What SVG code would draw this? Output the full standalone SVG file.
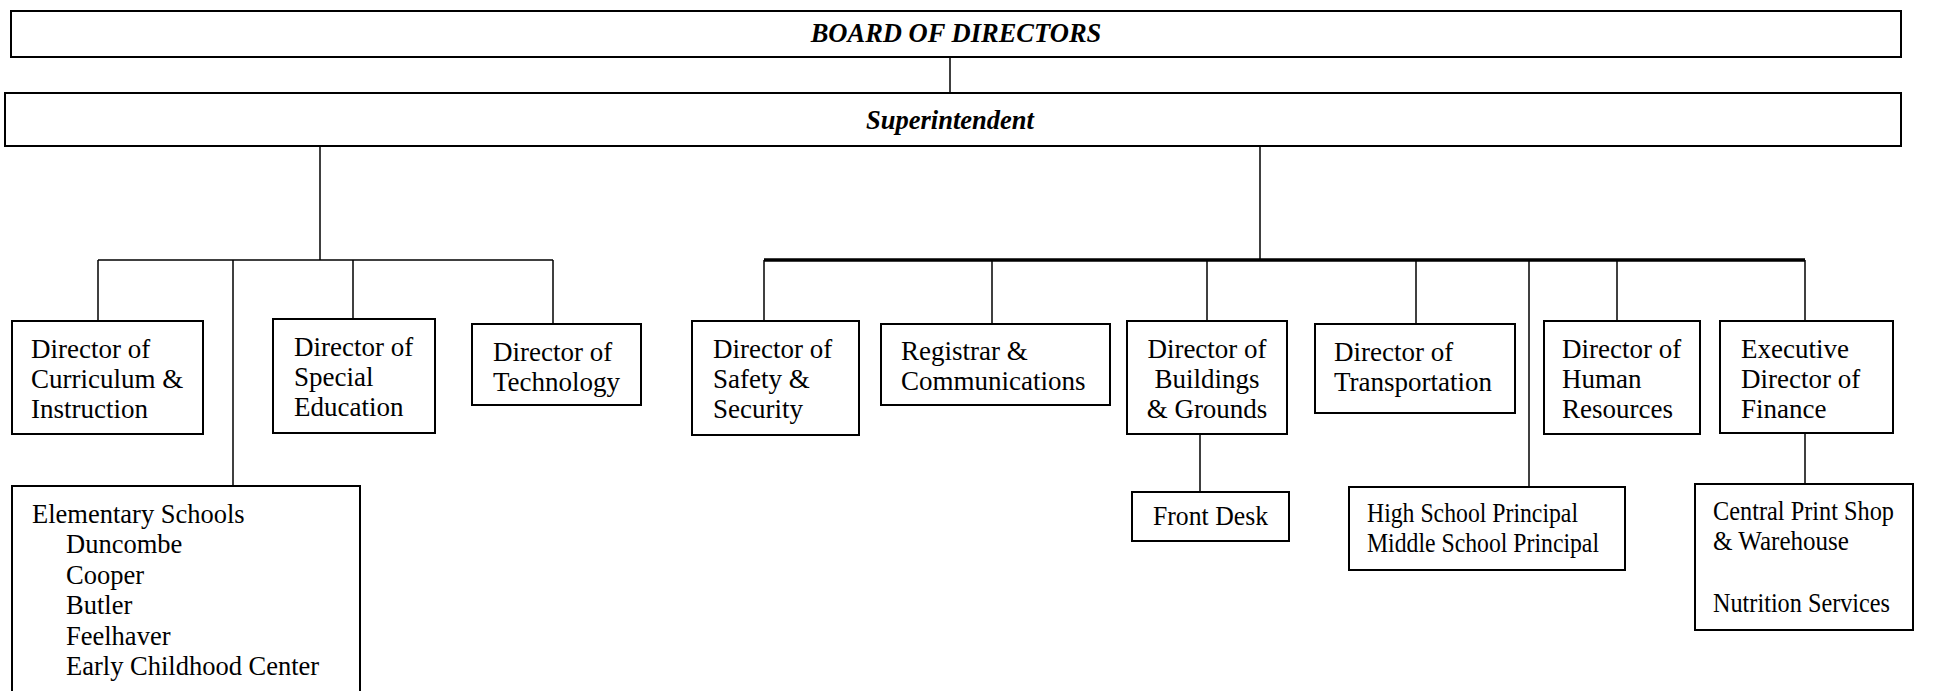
<svg xmlns="http://www.w3.org/2000/svg" width="1944" height="691" viewBox="0 0 1944 691">
<style>
.box{fill:#fff;stroke:#000;stroke-width:2}
.t{font-family:"Liberation Serif","Times New Roman",serif;font-size:27px;fill:#000}
.s{font-family:"Liberation Serif","Times New Roman",serif;font-size:26.5px;fill:#000}
.h{font-family:"Liberation Serif","Times New Roman",serif;font-size:26.5px;font-weight:bold;font-style:italic;fill:#000}
.c{stroke:#000;stroke-width:1.5;fill:none}
</style>
<rect width="1944" height="691" fill="#fff"/>
<g id="connectors">
<line class="c" x1="950" y1="57" x2="950" y2="93" stroke-width="2"/>
<line class="c" x1="320" y1="146" x2="320" y2="260"/>
<line class="c" x1="98" y1="260" x2="553" y2="260" stroke-width="2"/>
<line class="c" x1="98" y1="260" x2="98" y2="321"/>
<line class="c" x1="233" y1="260" x2="233" y2="486"/>
<line class="c" x1="353" y1="260" x2="353" y2="319"/>
<line class="c" x1="553" y1="260" x2="553" y2="324"/>
<line class="c" x1="1260" y1="146" x2="1260" y2="260"/>
<line class="c" x1="764" y1="260" x2="1805" y2="260" style="stroke-width:3.5"/>
<line class="c" x1="764" y1="260" x2="764" y2="321"/>
<line class="c" x1="992" y1="260" x2="992" y2="324"/>
<line class="c" x1="1207" y1="260" x2="1207" y2="321"/>
<line class="c" x1="1416" y1="260" x2="1416" y2="324"/>
<line class="c" x1="1529" y1="260" x2="1529" y2="487"/>
<line class="c" x1="1617" y1="260" x2="1617" y2="321"/>
<line class="c" x1="1805" y1="260" x2="1805" y2="321"/>
<line class="c" x1="1200" y1="434" x2="1200" y2="492"/>
<line class="c" x1="1805" y1="433" x2="1805" y2="484"/>
</g>
<g id="board">
<rect class="box" x="11" y="11" width="1890" height="46"/>
<text class="h" x="956" y="42" text-anchor="middle">BOARD OF DIRECTORS</text>
</g>
<g id="superintendent">
<rect class="box" x="5" y="93" width="1896" height="53"/>
<text class="h" x="950" y="129" text-anchor="middle">Superintendent</text>
</g>
<g id="curriculum">
<rect class="box" x="12" y="321" width="191" height="113"/>
<text class="t" x="31" y="358">Director of</text>
<text class="t" x="31" y="388">Curriculum &amp;</text>
<text class="t" x="31" y="418">Instruction</text>
</g>
<g id="special-ed">
<rect class="box" x="273" y="319" width="162" height="114"/>
<text class="t" x="294" y="356">Director of</text>
<text class="t" x="294" y="386">Special</text>
<text class="t" x="294" y="416">Education</text>
</g>
<g id="technology">
<rect class="box" x="472" y="324" width="169" height="81"/>
<text class="t" x="493" y="361">Director of</text>
<text class="t" x="493" y="391">Technology</text>
</g>
<g id="elementary">
<rect class="box" x="12" y="486" width="348" height="220"/>
<text class="s" x="32" y="523">Elementary Schools</text>
<text class="s" x="66" y="553">Duncombe</text>
<text class="s" x="66" y="584">Cooper</text>
<text class="s" x="66" y="614">Butler</text>
<text class="s" x="66" y="645">Feelhaver</text>
<text class="s" x="66" y="675">Early Childhood Center</text>
</g>
<g id="safety">
<rect class="box" x="692" y="321" width="167" height="114"/>
<text class="t" x="713" y="358">Director of</text>
<text class="t" x="713" y="388"> Safety &amp;</text>
<text class="t" x="713" y="418">Security</text>
</g>
<g id="registrar">
<rect class="box" x="881" y="324" width="229" height="81"/>
<text class="t" x="901" y="360">Registrar &amp;</text>
<text class="t" x="901" y="390">Communications</text>
</g>
<g id="buildings">
<rect class="box" x="1127" y="321" width="160" height="113"/>
<text class="t" x="1207" y="358" text-anchor="middle">Director of</text>
<text class="t" x="1207" y="388" text-anchor="middle">Buildings</text>
<text class="t" x="1207" y="418" text-anchor="middle">&amp; Grounds</text>
</g>
<g id="front-desk">
<rect class="box" x="1132" y="492" width="157" height="49"/>
<text class="s" x="1153" y="525" textLength="115" lengthAdjust="spacingAndGlyphs">Front Desk</text>
</g>
<g id="transportation">
<rect class="box" x="1315" y="324" width="200" height="89"/>
<text class="t" x="1334" y="361">Director of</text>
<text class="t" x="1334" y="391">Transportation</text>
</g>
<g id="hs-principal">
<rect class="box" x="1349" y="487" width="276" height="83"/>
<text class="s" x="1367" y="522" textLength="211" lengthAdjust="spacingAndGlyphs">High School Principal</text>
<text class="s" x="1367" y="552" textLength="232" lengthAdjust="spacingAndGlyphs">Middle School Principal</text>
</g>
<g id="human-resources">
<rect class="box" x="1544" y="321" width="156" height="113"/>
<text class="t" x="1562" y="358">Director of</text>
<text class="t" x="1562" y="388"> Human</text>
<text class="t" x="1562" y="418">Resources</text>
</g>
<g id="finance">
<rect class="box" x="1720" y="321" width="173" height="112"/>
<text class="t" x="1741" y="358">Executive</text>
<text class="t" x="1741" y="388">Director of</text>
<text class="t" x="1741" y="418">Finance</text>
</g>
<g id="print-shop">
<rect class="box" x="1695" y="484" width="218" height="146"/>
<text class="s" x="1713" y="520" textLength="181" lengthAdjust="spacingAndGlyphs">Central Print Shop</text>
<text class="s" x="1713" y="550" textLength="136" lengthAdjust="spacingAndGlyphs">&amp; Warehouse</text>
<text class="s" x="1713" y="612" textLength="177" lengthAdjust="spacingAndGlyphs">Nutrition Services</text>
</g>
</svg>
